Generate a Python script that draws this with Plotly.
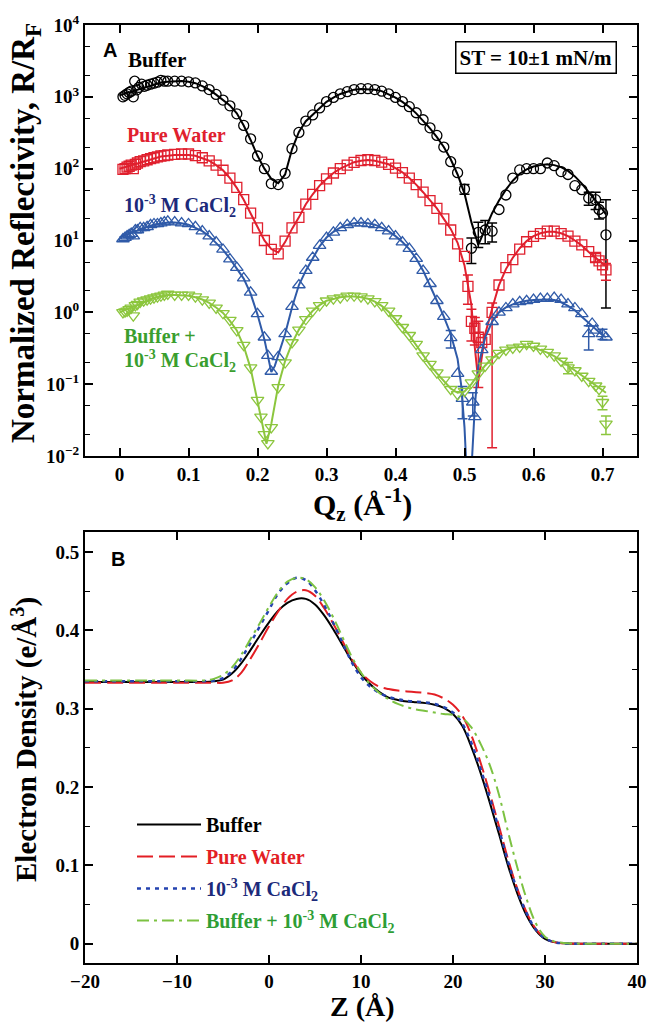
import plotly.graph_objects as go

W, H = 649, 1024
SERIF = "Liberation Serif"


def px(x):
    return x / W


def py(y):
    return 1 - y / H


# ---------------- Panel A : normalized reflectivity (offset curves) ----------------
buffer_fit_q = [0.00, 0.01, 0.02, 0.03, 0.04, 0.05, 0.06, 0.07, 0.08, 0.09,
                0.10, 0.11, 0.12, 0.13, 0.14, 0.15, 0.16, 0.17, 0.18, 0.19,
                0.20, 0.21, 0.22, 0.23, 0.24, 0.25, 0.26, 0.27, 0.28, 0.29,
                0.30, 0.31, 0.32, 0.33, 0.34, 0.35, 0.36, 0.37, 0.38, 0.39,
                0.40, 0.41, 0.42, 0.43, 0.44, 0.45, 0.46, 0.47, 0.48, 0.49,
                0.50, 0.51, 0.52, 0.53, 0.54, 0.55, 0.56, 0.57, 0.58, 0.59,
                0.60, 0.61, 0.62, 0.63, 0.64, 0.65, 0.66, 0.67, 0.68, 0.69,
                0.70, 0.705]
buffer_fit_r = [1047, 1122, 1202, 1318, 1413, 1514, 1585, 1622, 1660, 1660,
                1622, 1549, 1413, 1259, 1072, 912, 759, 589, 398, 251,
                151, 100, 72, 63, 83, 186, 324, 457, 562, 708,
                851, 977, 1096, 1175, 1259, 1288, 1288, 1259, 1202, 1096,
                977, 851, 724, 589, 468, 363, 275, 200, 135, 83,
                45, 18, 8.7, 14.1, 24, 36, 51, 68, 85, 98,
                107, 112, 115, 112, 105, 93, 78, 62, 48, 36,
                27, 23]

buffer_q = [0.005, 0.008, 0.011, 0.014, 0.017, 0.020, 0.022, 0.025, 0.028, 0.032,
            0.036, 0.040, 0.045, 0.050, 0.055, 0.060, 0.065, 0.070,
            0.08, 0.09, 0.10, 0.11, 0.12, 0.13, 0.14, 0.15, 0.16, 0.17, 0.18, 0.19,
            0.20, 0.21, 0.22, 0.23, 0.24, 0.25, 0.26, 0.27, 0.28, 0.29,
            0.30, 0.31, 0.32, 0.33, 0.34, 0.35, 0.36, 0.37, 0.38, 0.39,
            0.40, 0.41, 0.42, 0.43, 0.44, 0.45, 0.46, 0.47, 0.48, 0.49,
            0.50, 0.51, 0.52, 0.53, 0.54, 0.55, 0.56, 0.57, 0.58, 0.59,
            0.60, 0.61, 0.62, 0.63, 0.64, 0.65, 0.66, 0.67, 0.68, 0.69,
            0.695, 0.70, 0.705]
buffer_r = [1000, 1050, 1100, 1150, 1200, 1000, 1650, 1250, 1350, 1500,
            1400, 1450, 1500, 1550, 1600, 1700, 1650, 1650,
            1650, 1650, 1620, 1560, 1420, 1260, 1080, 900, 750, 580, 400, 260,
            150, 100, 62, 60, 86, 190, 320, 460, 560, 700,
            860, 980, 1100, 1180, 1260, 1300, 1300, 1260, 1200, 1100,
            980, 860, 730, 600, 480, 370, 290, 200, 125, 88,
            52, 7.8, 13, 14, 13.5, 27, 43, 74, 96, 100,
            100, 100, 120, 110, 91, 83, 58, 51, 39, 37,
            27, 24, 12]
buffer_err_q = [0.50, 0.51, 0.52, 0.53, 0.54, 0.68, 0.69, 0.695, 0.705]
buffer_err_plus = [8, 3, 5, 5, 4, 8, 10, 7, 25]
buffer_err_minus = [8, 3, 5, 5, 4, 8, 10, 7, 10.85]

water_fit_q = [0.00, 0.01, 0.02, 0.03, 0.04, 0.05, 0.06, 0.07, 0.08, 0.09,
               0.10, 0.11, 0.12, 0.13, 0.14, 0.15, 0.16, 0.17, 0.18, 0.19,
               0.20, 0.21, 0.22, 0.23, 0.24, 0.25, 0.26, 0.27, 0.28, 0.29,
               0.30, 0.31, 0.32, 0.33, 0.34, 0.35, 0.36, 0.37, 0.38, 0.39,
               0.40, 0.41, 0.42, 0.43, 0.44, 0.45, 0.46, 0.47, 0.48, 0.49,
               0.50, 0.51, 0.515, 0.52, 0.525, 0.53,
               0.54, 0.55, 0.56, 0.57, 0.58, 0.59, 0.60, 0.61, 0.62, 0.63,
               0.64, 0.65, 0.66, 0.67, 0.68, 0.69, 0.70, 0.705]
water_fit_r = [100, 107, 115, 123, 132, 141, 148, 151, 155, 155,
               155, 151, 141, 129, 112, 95, 74, 54, 37, 24,
               14.8, 10, 7.6, 6.8, 9.5, 14.5, 21, 32, 44, 58,
               72, 87, 100, 112, 123, 129, 132, 129, 123, 115,
               102, 89, 74, 60, 47, 36, 28, 20, 14.5, 9.3,
               4.5, 1.26, 0.32, 0.11, 0.25, 0.5,
               1.12, 2.4, 4.0, 5.75, 7.8, 9.8, 11.5, 12.6, 13.2, 13.2,
               12.6, 11.5, 10, 8.5, 6.9, 5.75, 4.8, 4.4]

water_q = [0.005, 0.008, 0.011, 0.014, 0.017, 0.020, 0.023, 0.026, 0.030, 0.035,
           0.040, 0.045, 0.050, 0.055, 0.060, 0.065, 0.070,
           0.08, 0.09, 0.10, 0.11, 0.12, 0.13, 0.14, 0.15, 0.16, 0.17, 0.18, 0.19,
           0.20, 0.21, 0.22, 0.23, 0.24, 0.25, 0.26, 0.27, 0.28, 0.29,
           0.30, 0.31, 0.32, 0.33, 0.34, 0.35, 0.36, 0.37, 0.38, 0.39,
           0.40, 0.41, 0.42, 0.43, 0.44, 0.45, 0.46, 0.47, 0.48, 0.49,
           0.50, 0.505, 0.51, 0.515, 0.52, 0.525, 0.53, 0.54, 0.55, 0.56, 0.57, 0.58, 0.59,
           0.60, 0.61, 0.62, 0.63, 0.64, 0.65, 0.66, 0.67, 0.68, 0.69,
           0.695, 0.70, 0.705]
water_r = [98, 100, 105, 108, 112, 100, 115, 120, 125, 128,
           133, 138, 142, 146, 150, 152, 155,
           158, 160, 160, 152, 142, 128, 112, 95, 74, 55, 37, 24,
           15, 10, 7.5, 6.5, 9.8, 15, 21, 32, 44, 58,
           72, 87, 100, 112, 122, 130, 133, 130, 123, 115,
           102, 88, 74, 60, 47, 36, 28, 20, 14, 9,
           6.0, 2.3, 0.75, 0.6, 0.45, 0.38, 0.42, 1.0, 2.4, 4.2, 5.4, 7.6, 9.6,
           11.4, 12.5, 13.5, 13.5, 12.5, 11.5, 9.8, 8.7, 7.0, 5.8,
           5.2, 4.6, 3.9]
water_err_q = [0.505, 0.51, 0.515, 0.52, 0.54, 0.69, 0.705]
water_err_plus = [1.0, 0.35, 0.25, 0.3, 0.35, 0.8, 0.9]
water_err_minus = [1.0, 0.35, 0.25, 0.36, 0.987, 0.8, 1.1]

cacl_fit_q = [0.00, 0.01, 0.02, 0.03, 0.04, 0.05, 0.06, 0.07, 0.08, 0.09,
              0.10, 0.11, 0.12, 0.13, 0.14, 0.15, 0.16, 0.17, 0.18, 0.19,
              0.20, 0.21, 0.215, 0.22, 0.225,
              0.23, 0.24, 0.25, 0.26, 0.27, 0.28, 0.29,
              0.30, 0.31, 0.32, 0.33, 0.34, 0.35, 0.36, 0.37, 0.38, 0.39,
              0.40, 0.41, 0.42, 0.43, 0.44, 0.45, 0.46, 0.47, 0.48, 0.49,
              0.495, 0.50, 0.505, 0.51, 0.515, 0.52,
              0.53, 0.54, 0.55, 0.56, 0.57, 0.58, 0.59, 0.60, 0.61, 0.62,
              0.63, 0.64, 0.65, 0.66, 0.67, 0.68, 0.69, 0.70, 0.705]
cacl_fit_r = [11.0, 12.0, 13.2, 14.5, 15.5, 16.6, 17.4, 17.8, 17.8, 17.4,
              16.6, 15.1, 13.5, 11.5, 9.3, 7.4, 5.6, 4.0, 2.95, 1.82,
              0.93, 0.42, 0.24, 0.148, 0.178,
              0.25, 0.50, 1.17, 2.4, 3.8, 5.75, 8.3,
              11.0, 13.2, 15.1, 16.6, 17.4, 17.8, 17.4, 16.6, 15.1, 13.5,
              11.5, 9.5, 7.6, 5.6, 3.8, 2.4, 1.45, 0.87, 0.50, 0.224,
              0.10, 0.025, 0.0025, 0.0063, 0.05, 0.178,
              0.45, 0.74, 1.0, 1.17, 1.29, 1.38, 1.45, 1.48, 1.51, 1.51,
              1.48, 1.38, 1.23, 1.07, 0.87, 0.71, 0.575, 0.48, 0.45]

cacl_q = [0.005, 0.008, 0.011, 0.014, 0.017, 0.020, 0.023, 0.026, 0.030, 0.035,
          0.040, 0.045, 0.050, 0.055, 0.060, 0.065, 0.070,
          0.08, 0.09, 0.10, 0.11, 0.12, 0.13, 0.14, 0.15, 0.16, 0.17, 0.18, 0.19,
          0.20, 0.21, 0.215, 0.22,
          0.23, 0.24, 0.25, 0.26, 0.27, 0.28, 0.29,
          0.30, 0.31, 0.32, 0.33, 0.34, 0.35, 0.36, 0.37, 0.38, 0.39,
          0.40, 0.41, 0.42, 0.43, 0.44, 0.45, 0.46, 0.47, 0.48, 0.49,
          0.497, 0.512, 0.515, 0.525, 0.54, 0.55, 0.56, 0.57, 0.58, 0.59,
          0.60, 0.61, 0.62, 0.63, 0.64, 0.65, 0.66, 0.67, 0.68, 0.685, 0.69,
          0.70, 0.705]
cacl_r = [10.5, 11, 11.5, 12, 12.5, 11.5, 14, 14, 15, 15,
          15.5, 16.5, 17, 17, 17.5, 18, 18.5,
          18, 17.5, 17, 15.5, 13.5, 11.5, 9.5, 7.5, 5.5, 4.2, 3.0, 1.9,
          0.95, 0.45, 0.25, 0.15,
          0.24, 0.5, 1.2, 2.4, 3.8, 5.8, 8.5,
          11, 13, 15, 16.5, 17.5, 17.5, 17, 16.5, 15, 13.5,
          11.5, 9.5, 7.7, 5.6, 3.8, 2.5, 1.45, 0.87, 0.44, 0.14,
          0.063, 0.056, 0.035, 0.3, 0.74, 1.0, 1.15, 1.3, 1.4, 1.45,
          1.5, 1.55, 1.55, 1.6, 1.5, 1.3, 1.15, 0.95, 0.5, 0.7, 0.56,
          0.5, 0.45]
cacl_err_q = [0.48, 0.497, 0.512, 0.68, 0.70]
cacl_err_plus = [0.12, 0.03, 0.02, 0.15, 0.08]
cacl_err_minus = [0.12, 0.03, 0.02, 0.2, 0.08]

mix_fit_q = [0.00, 0.01, 0.02, 0.03, 0.04, 0.05, 0.06, 0.07, 0.08, 0.09,
             0.10, 0.11, 0.12, 0.13, 0.14, 0.15, 0.16, 0.17, 0.18, 0.19,
             0.20, 0.21, 0.213,
             0.22, 0.23, 0.24, 0.25, 0.26, 0.27, 0.28, 0.29,
             0.30, 0.31, 0.32, 0.33, 0.34, 0.35, 0.36, 0.37, 0.38, 0.39,
             0.40, 0.41, 0.42, 0.43, 0.44, 0.45, 0.46, 0.47, 0.48, 0.49,
             0.50, 0.51, 0.52, 0.53, 0.54, 0.55, 0.56, 0.57, 0.58, 0.59,
             0.60, 0.61, 0.62, 0.63, 0.64, 0.65, 0.66, 0.67, 0.68, 0.69,
             0.70, 0.705]
mix_fit_r = [1.00, 1.10, 1.20, 1.32, 1.45, 1.58, 1.66, 1.74, 1.74, 1.74,
             1.70, 1.62, 1.51, 1.35, 1.17, 0.98, 0.76, 0.56, 0.34, 0.166,
             0.056, 0.019, 0.0148,
             0.028, 0.095, 0.21, 0.37, 0.575, 0.81, 1.05, 1.26,
             1.45, 1.55, 1.62, 1.66, 1.66, 1.62, 1.55, 1.41, 1.23, 1.02,
             0.81, 0.63, 0.48, 0.35, 0.25, 0.186, 0.141, 0.110, 0.087, 0.076,
             0.079, 0.100, 0.138, 0.182, 0.229, 0.269, 0.302, 0.324, 0.331, 0.331,
             0.324, 0.302, 0.275, 0.245, 0.214, 0.182, 0.155, 0.132, 0.112, 0.095,
             0.083, 0.076]

mix_q = [0.005, 0.008, 0.011, 0.014, 0.017, 0.020, 0.023, 0.026, 0.030, 0.035,
         0.040, 0.045, 0.050, 0.055, 0.060, 0.065, 0.070,
         0.08, 0.09, 0.10, 0.11, 0.12, 0.13, 0.14, 0.15, 0.16, 0.17, 0.18, 0.19,
         0.20, 0.205, 0.21, 0.215, 0.22,
         0.23, 0.24, 0.25, 0.26, 0.27, 0.28, 0.29,
         0.30, 0.31, 0.32, 0.33, 0.34, 0.35, 0.36, 0.37, 0.38, 0.39,
         0.40, 0.41, 0.42, 0.43, 0.44, 0.45, 0.46, 0.47, 0.48, 0.49,
         0.50, 0.51, 0.52, 0.53, 0.54, 0.55, 0.56, 0.57, 0.58, 0.59,
         0.60, 0.61, 0.62, 0.63, 0.64, 0.65, 0.66, 0.67, 0.68, 0.69,
         0.695, 0.70, 0.705]
mix_r = [1.0, 1.02, 1.05, 1.1, 1.15, 0.9, 1.25, 1.3, 1.4, 1.45,
         1.5, 1.55, 1.6, 1.65, 1.7, 1.75, 1.8,
         1.75, 1.75, 1.75, 1.65, 1.5, 1.35, 1.15, 0.97, 0.78, 0.56, 0.35, 0.17,
         0.06, 0.035, 0.02, 0.015, 0.025,
         0.09, 0.2, 0.38, 0.57, 0.8, 1.05, 1.25,
         1.45, 1.55, 1.6, 1.7, 1.7, 1.65, 1.55, 1.42, 1.25, 1.05,
         0.82, 0.62, 0.48, 0.36, 0.25, 0.19, 0.145, 0.115, 0.085, 0.072,
         0.08, 0.105, 0.14, 0.18, 0.22, 0.27, 0.3, 0.32, 0.33, 0.36,
         0.34, 0.31, 0.28, 0.25, 0.21, 0.17, 0.155, 0.13, 0.11, 0.095,
         0.085, 0.056, 0.028]
mix_err_q = [0.65, 0.70, 0.705]
mix_err_plus = [0.03, 0.012, 0.008]
mix_err_minus = [0.03, 0.012, 0.008]

# ---------------- Panel B : electron density profiles ----------------
z = [-20, -10, -7, -6, -5, -4, -3, -2, -1, 0, 1, 2, 3, 4, 5, 6, 7, 8, 9, 10,
     11, 12, 13, 14, 15, 16, 17, 18, 19, 20, 21, 22, 23, 24, 25, 26, 27, 28, 29, 30,
     31, 32, 34, 40]
rho_buffer = [0.334, 0.334, 0.334, 0.335, 0.337, 0.345, 0.358, 0.375, 0.393, 0.410,
              0.425, 0.435, 0.440, 0.440, 0.433, 0.419, 0.401, 0.381, 0.361, 0.344,
              0.331, 0.321, 0.314, 0.311, 0.309, 0.308, 0.307, 0.305, 0.301, 0.293,
              0.278, 0.251, 0.218, 0.180, 0.140, 0.099, 0.064, 0.036, 0.017, 0.006,
              0.002, 0.0005, 0.0, 0.0]
rho_water = [0.333, 0.333, 0.333, 0.333, 0.333, 0.336, 0.346, 0.364, 0.384, 0.405,
             0.424, 0.440, 0.449, 0.451, 0.444, 0.428, 0.408, 0.386, 0.363, 0.346,
             0.335, 0.328, 0.325, 0.323, 0.322, 0.321, 0.320, 0.318, 0.313, 0.305,
             0.291, 0.266, 0.231, 0.192, 0.150, 0.107, 0.070, 0.040, 0.019, 0.007,
             0.002, 0.0005, 0.0, 0.0]
rho_cacl = [0.335, 0.335, 0.335, 0.336, 0.339, 0.348, 0.364, 0.384, 0.405, 0.426,
            0.447, 0.460, 0.467, 0.464, 0.451, 0.432, 0.409, 0.384, 0.359, 0.340,
            0.328, 0.320, 0.315, 0.312, 0.310, 0.309, 0.308, 0.306, 0.302, 0.295,
            0.281, 0.256, 0.223, 0.186, 0.146, 0.104, 0.068, 0.039, 0.018, 0.007,
            0.002, 0.0005, 0.0, 0.0]
rho_mix = [0.336, 0.336, 0.336, 0.338, 0.343, 0.353, 0.369, 0.389, 0.409, 0.430,
           0.449, 0.462, 0.467, 0.465, 0.455, 0.438, 0.416, 0.391, 0.366, 0.346,
           0.331, 0.320, 0.312, 0.306, 0.302, 0.299, 0.297, 0.295, 0.293, 0.292,
           0.288, 0.276, 0.255, 0.228, 0.190, 0.142, 0.097, 0.057, 0.026, 0.009,
           0.003, 0.001, 0.0, 0.0]

qz_ticks = [0, 0.1, 0.2, 0.3, 0.4, 0.5, 0.6, 0.7]
qz_ticktext = ["0", "0.1", "0.2", "0.3", "0.4", "0.5", "0.6", "0.7"]
r_ticks = [1e-2, 1e-1, 1e0, 1e1, 1e2, 1e3, 1e4]
r_ticktext = ["10<sup>\u22122</sup>", "10<sup>\u22121</sup>", "10<sup>0</sup>",
              "10<sup>1</sup>", "10<sup>2</sup>", "10<sup>3</sup>", "10<sup>4</sup>"]
r_minor = [2e-2, 5e-2, 2e-1, 5e-1, 2, 5, 20, 50, 200, 500, 2000, 5000]

BLACK = "#000000"
RED = "#e0202e"
BLUE = "#2f5aa8"
GREEN = "#8cc63e"

fig = go.Figure()


def add_reflectivity(fit_q, fit_r, q, r, eq, ep, em, color, symbol, size):
    fig.add_trace(go.Scatter(x=fit_q, y=fit_r, mode="lines", xaxis="x", yaxis="y",
                             line=dict(color=color, width=2), showlegend=False,
                             hoverinfo="skip"))
    ey = [r[q.index(v)] for v in eq]
    fig.add_trace(go.Scatter(x=eq, y=ey, mode="markers", xaxis="x", yaxis="y",
                             marker=dict(size=1, color="rgba(0,0,0,0)"),
                             error_y=dict(type="data", symmetric=False, array=ep,
                                          arrayminus=em, color=color, thickness=1.5,
                                          width=5),
                             showlegend=False, hoverinfo="skip"))
    fig.add_trace(go.Scatter(x=q, y=r, mode="markers", xaxis="x", yaxis="y",
                             marker=dict(symbol=symbol, size=size, color=color,
                                         line=dict(color=color, width=1.3)),
                             showlegend=False))


add_reflectivity(buffer_fit_q, buffer_fit_r, buffer_q, buffer_r, buffer_err_q,
                 buffer_err_plus, buffer_err_minus, BLACK, "circle-open", 10)
add_reflectivity(water_fit_q, water_fit_r, water_q, water_r, water_err_q,
                 water_err_plus, water_err_minus, RED, "square-open", 10)
add_reflectivity(cacl_fit_q, cacl_fit_r, cacl_q, cacl_r, cacl_err_q,
                 cacl_err_plus, cacl_err_minus, BLUE, "triangle-up-open", 11)
add_reflectivity(mix_fit_q, mix_fit_r, mix_q, mix_r, mix_err_q,
                 mix_err_plus, mix_err_minus, GREEN, "triangle-down-open", 11)

# Panel B traces
fig.add_trace(go.Scatter(x=z, y=rho_buffer, mode="lines", xaxis="x2", yaxis="y2",
                         line=dict(color="#000000", width=2, shape="spline"),
                         name="Buffer", legendgroup="g1"))
fig.add_trace(go.Scatter(x=z, y=rho_water, mode="lines", xaxis="x2", yaxis="y2",
                         line=dict(color="#e31e24", width=2, dash="16px,6px", shape="spline"),
                         name="<span style='color:#e31e24'>Pure Water</span>", legendgroup="g2"))
fig.add_trace(go.Scatter(x=z, y=rho_cacl, mode="lines", xaxis="x2", yaxis="y2",
                         line=dict(color="#2443b0", width=2.5, dash="4px,5px", shape="spline"),
                         name="<span style='color:#1c2a7a'>10<sup>-3</sup> M CaCl<sub>2</sub></span>",
                         legendgroup="g3"))
fig.add_trace(go.Scatter(x=z, y=rho_mix, mode="lines", xaxis="x2", yaxis="y2",
                         line=dict(color="#7cc242", width=2, dash="12px,5px,3px,5px", shape="spline"),
                         name="<span style='color:#2e9e35'>Buffer + 10<sup>-3</sup> M CaCl<sub>2</sub></span>",
                         legendgroup="g4"))

x_dom = [px(85), px(637)]
axis_common = dict(showline=True, linecolor="black", linewidth=2, mirror="allticks",
                   ticks="inside", ticklen=8, tickwidth=1.5, tickcolor="black",
                   showgrid=False, zeroline=False, automargin=False,
                   tickfont=dict(family=SERIF, size=19, color="black", weight="bold"))

fig.update_layout(
    width=W, height=H,
    margin=dict(l=0, r=0, t=0, b=0, autoexpand=False),
    paper_bgcolor="white", plot_bgcolor="white",
    font=dict(family=SERIF, color="black"),
    xaxis=dict(domain=x_dom, anchor="y", range=[-0.05, 0.75],
               tickmode="array", tickvals=qz_ticks, ticktext=qz_ticktext, **axis_common),
    yaxis=dict(domain=[py(456), py(25)], anchor="x", type="log", range=[-2, 4],
               tickmode="array", tickvals=r_ticks, ticktext=r_ticktext,
               minor=dict(tickmode="array", tickvals=r_minor, ticks="inside",
                          ticklen=5, tickwidth=1.2, tickcolor="black"),
               **axis_common),
    xaxis2=dict(domain=x_dom, anchor="y2", range=[-20, 40], dtick=10, tick0=0,
                **axis_common),
    yaxis2=dict(domain=[py(963.3), py(532.3)], anchor="x2", range=[-0.025, 0.525],
                dtick=0.1, tick0=0,
                minor=dict(dtick=0.05, tick0=0, ticks="inside", ticklen=5,
                           tickwidth=1.2, tickcolor="black"),
                **axis_common),
    legend=dict(x=px(132), y=py(805), xanchor="left", yanchor="top",
                bgcolor="rgba(0,0,0,0)", itemwidth=64, traceorder="grouped",
                tracegroupgap=3,
                font=dict(family=SERIF, size=20, color="black", weight="bold")),
    showlegend=True,
)

ann = []


def txt(text, x, y, size, color="black", xanchor="left", angle=0, family=SERIF, **kw):
    ann.append(dict(text=text, x=px(x), y=py(y), xref="paper", yref="paper",
                    xanchor=xanchor, yanchor="middle", showarrow=False, textangle=angle,
                    font=dict(family=family, size=size, color=color, weight="bold"), **kw))


txt("Normalized Reflectivity, R/R<sub>F</sub>", 25, 233, 33, xanchor="center", angle=-90)
txt("Q<sub>z</sub> (\u00c5<sup>-1</sup>)", 363, 504, 30, xanchor="center")
txt("Electron Density (e/\u00c5<sup>3</sup>)", 24, 740, 29, xanchor="center", angle=-90)
txt("Z (\u00c5)", 363, 1006, 28, xanchor="center")
txt("A", 101, 50, 20, family="Liberation Sans")
txt("B", 109, 559, 20, family="Liberation Sans")
txt("Buffer", 126, 60, 21)
txt("Pure Water", 125, 135, 20, color=RED)
txt("10<sup>-3</sup> M CaCl<sub>2</sub>", 122, 206, 20, color="#1c2a7a")
txt("Buffer +", 122, 336, 20, color="#3a9e2e")
txt("10<sup>-3</sup> M CaCl<sub>2</sub>", 122, 361, 20, color="#3a9e2e")
txt("ST = 10\u00b11 mN/m", 535.5, 57.5, 21, xanchor="center",
    bordercolor="black", borderwidth=1.5, borderpad=3)
fig.update_layout(annotations=ann)

# Remove the default page margin so the figure fills the 649x1024 window exactly.
fig.write_html("out.html",
               config={"displayModeBar": False},
               post_script="document.body.style.margin='0';"
                           "document.documentElement.style.overflow='hidden';")
